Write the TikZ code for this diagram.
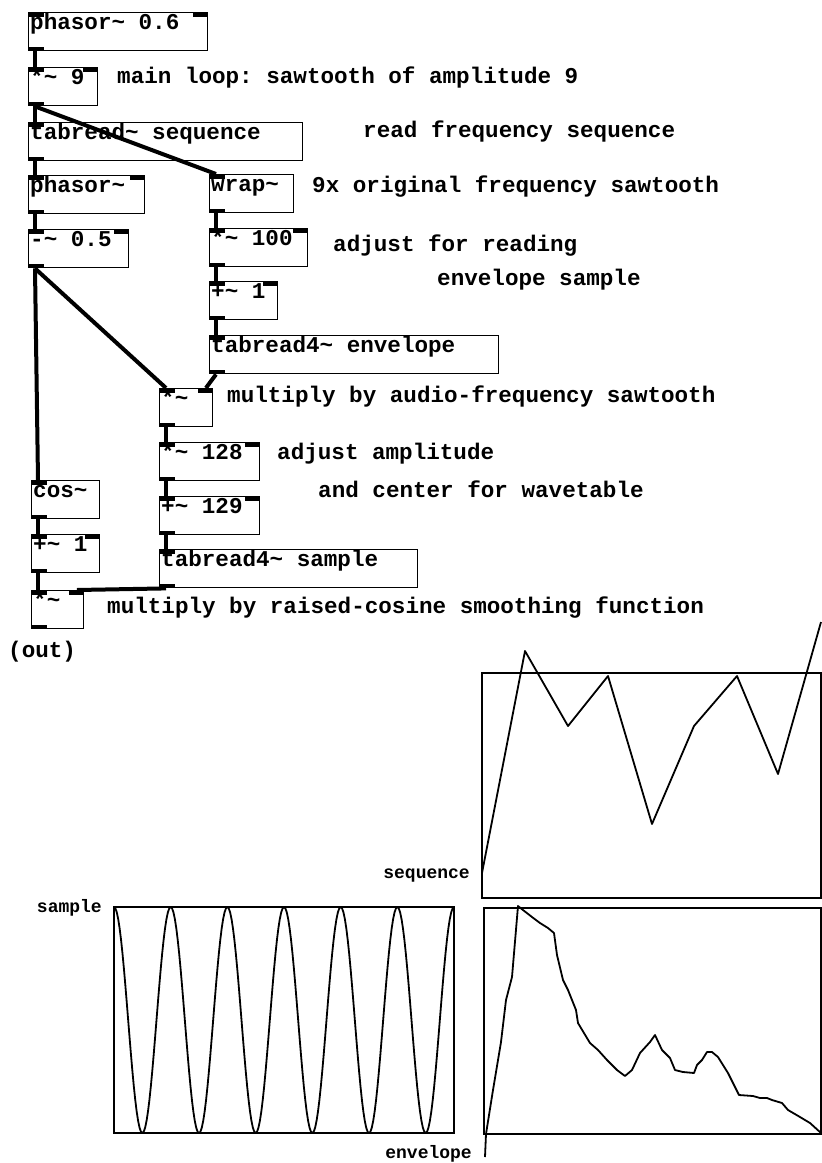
\documentclass[tikz,border=0pt]{standalone}
\usepackage{fontspec}
\setmonofont{Liberation Mono}
\usetikzlibrary{calc}
\newcommand{\pdfont}{\ttfamily\bfseries\fontsize{22.6}{24}\selectfont}
\newcommand{\tabfont}{\ttfamily\bfseries\fontsize{18}{20}\selectfont}
\newcommand{\pdtilde}{\textasciitilde}

\begin{document}
\begin{tikzpicture}[
x=1pt, y=-1pt,
pdobj/.style={draw, line width=1.4pt, anchor=north west, inner xsep=1.5pt, inner ysep=0pt,
  text width=#1, align=left, text height=17pt, text depth=21pt, font=\pdfont,
  execute at begin node={\spaceskip=0pt\xspaceskip=0pt\relax},
  path picture={
    \fill (path picture bounding box.north west) rectangle ([xshift=15pt, yshift=-4pt]path picture bounding box.north west);
    \fill (path picture bounding box.south west) rectangle ([xshift=15pt, yshift=4pt]path picture bounding box.south west);
  }},
twoin/.style={
  path picture={
    \fill (path picture bounding box.north west) rectangle ([xshift=15pt, yshift=-4pt]path picture bounding box.north west);
    \fill (path picture bounding box.north east) rectangle ([xshift=-15pt, yshift=-4pt]path picture bounding box.north east);
    \fill (path picture bounding box.south west) rectangle ([xshift=15pt, yshift=4pt]path picture bounding box.south west);
  }},
pdtext/.style={anchor=base west, inner sep=0pt, font=\pdfont},
tablabel/.style={anchor=base east, inner sep=0pt, font=\tabfont},
wire/.style={line width=4pt},
graphframe/.style={draw, line width=1.8pt},
plotline/.style={line width=1.8pt, line join=round}
]
\useasboundingbox (0,0) rectangle (822,1163);

% objects (text width = box width - 3)
\node[pdobj=176, twoin] (phasorA) at (28,12) {phasor\pdtilde{} 0.6};
\node[pdobj=66, twoin] (timesNine) at (28,67) {*\pdtilde{} 9};
\node[pdobj=271] (tabseq) at (28,122) {tabread\pdtilde{} sequence};
\node[pdobj=113, twoin] (phasorB) at (28,175) {phasor\pdtilde};
\node[pdobj=81] (wrapper) at (209,174) {wrap\pdtilde};
\node[pdobj=97, twoin] (minusHalf) at (28,229) {-\pdtilde{} 0.5};
\node[pdobj=95, twoin] (timesHundred) at (209,228) {*\pdtilde{} 100};
\node[pdobj=65, twoin] (plusOneA) at (209,281) {+\pdtilde{} 1};
\node[pdobj=286] (tabenv) at (209,335) {tabread4\pdtilde{} envelope};
\node[pdobj=50, twoin] (timesEnv) at (159,388) {*\pdtilde};
\node[pdobj=97, twoin] (timesAmp) at (159,442) {*\pdtilde{} 128};
\node[pdobj=65] (cosine) at (31,480) {cos\pdtilde};
\node[pdobj=97, twoin] (plusCenter) at (159,496) {+\pdtilde{} 129};
\node[pdobj=65, twoin] (plusOneB) at (31,534) {+\pdtilde{} 1};
\node[pdobj=255] (tabsamp) at (159,549) {tabread4\pdtilde{} sample};
\node[pdobj=49, twoin] (timesOut) at (31,590) {*\pdtilde};

% comments
\node[pdtext] (cmain) at (117,83) {main loop: sawtooth of amplitude 9};
\node[pdtext] (cseq) at (363,137) {read frequency sequence};
\node[pdtext] (cwrap) at (312,192) {9x original frequency sawtooth};
\node[pdtext] (cadj) at (333,251) {adjust for reading};
\node[pdtext] (cadjb) at (437,285) {envelope sample};
\node[pdtext] (cmul) at (227,402) {multiply by audio-frequency sawtooth};
\node[pdtext] (camp) at (277,459) {adjust amplitude};
\node[pdtext] (ccent) at (318,497) {and center for wavetable};
\node[pdtext] (csmooth) at (107,613) {multiply by raised-cosine smoothing function};
\node[pdtext] (out) at (8,657) {(out)};

% connections
\draw[wire] ($(phasorA.south west)+(7,0)$) -- ($(timesNine.north west)+(7,0)$);
\draw[wire] ($(timesNine.south west)+(7,0)$) -- ($(tabseq.north west)+(7,0)$);
\draw[wire] ($(timesNine.south west)+(7,0)$) -- ($(wrapper.north west)+(7,0)$);
\draw[wire] ($(tabseq.south west)+(7,0)$) -- ($(phasorB.north west)+(7,0)$);
\draw[wire] ($(phasorB.south west)+(7,0)$) -- ($(minusHalf.north west)+(7,0)$);
\draw[wire] ($(minusHalf.south west)+(7,0)$) -- ($(cosine.north west)+(7,0)$);
\draw[wire] ($(minusHalf.south west)+(7,0)$) -- ($(timesEnv.north west)+(7,0)$);
\draw[wire] ($(wrapper.south west)+(7,0)$) -- ($(timesHundred.north west)+(7,0)$);
\draw[wire] ($(timesHundred.south west)+(7,0)$) -- ($(plusOneA.north west)+(7,0)$);
\draw[wire] ($(plusOneA.south west)+(7,0)$) -- ($(tabenv.north west)+(7,0)$);
\draw[wire] ($(tabenv.south west)+(7,0)$) -- ($(timesEnv.north east)+(-7.5,0)$);
\draw[wire] ($(timesEnv.south west)+(7,0)$) -- ($(timesAmp.north west)+(7,0)$);
\draw[wire] ($(timesAmp.south west)+(7,0)$) -- ($(plusCenter.north west)+(7,0)$);
\draw[wire] ($(plusCenter.south west)+(7,0)$) -- ($(tabsamp.north west)+(7,0)$);
\draw[wire] ($(cosine.south west)+(7,0)$) -- ($(plusOneB.north west)+(7,0)$);
\draw[wire] ($(plusOneB.south west)+(7,0)$) -- ($(timesOut.north west)+(7,0)$);
\draw[wire] ($(tabsamp.south west)+(7,0)$) -- ($(timesOut.north east)+(-7.5,0)$);

% tables
\draw[graphframe] (482,673) rectangle (821,898);
\draw[plotline] (482,873) -- (525,651) -- (568,726) -- (608,676) -- (652,824)
  -- (694,726) -- (737,676) -- (778,774) -- (821,622);
\node[tablabel] (seqlabel) at (470,878) {sequence};

\draw[graphframe] (114,907) rectangle (454,1133);
\draw[plotline] plot[domain=0:340, samples=241, variable=\t]
  ({114+\t}, {1020-113*cos(6.35294*\t)});
\node[tablabel] (samplabel) at (102,912) {sample};

\draw[graphframe] (484,908) rectangle (821,1134);
\draw[plotline] (485,1157) -- (486,1134) -- (493,1090) -- (501,1042) -- (506,1000)
  -- (512,977) -- (518,906) -- (523,910) -- (532,917) -- (540,923) -- (548,928)
  -- (554,933) -- (557,955) -- (563,980) -- (568,990) -- (576,1010) -- (578,1023)
  -- (590,1043) -- (598,1050) -- (607,1060) -- (617,1070) -- (625,1076) -- (632,1070)
  -- (640,1053) -- (650,1042) -- (655,1035) -- (662,1050) -- (670,1058) -- (675,1070)
  -- (683,1072) -- (694,1073) -- (697,1065) -- (702,1060) -- (707,1052) -- (712,1052)
  -- (718,1057) -- (728,1073) -- (733,1083) -- (739,1095) -- (753,1096) -- (760,1098)
  -- (767,1098) -- (772,1100) -- (782,1103) -- (788,1110) -- (800,1117) -- (810,1123)
  -- (821,1133);
\node[tablabel] (envlabel) at (472,1158) {envelope};

\end{tikzpicture}
\end{document}
